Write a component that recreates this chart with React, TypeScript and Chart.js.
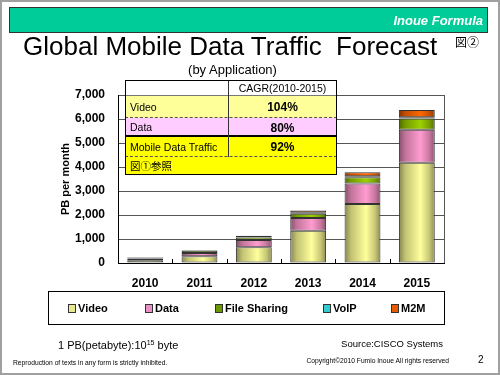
import React, { useEffect, useRef } from "react";
import { Chart, registerables } from "chart.js";

Chart.register(...registerables);

// ---- data ----
const years = ["2010", "2011", "2012", "2013", "2014", "2015"];
const videoPB = [115, 280, 660, 1340, 2460, 4180];
const dataPB = [75, 140, 300, 530, 850, 1370];
const fileSharingPB = [35, 90, 100, 180, 260, 470];
const voipPB = [5, 15, 20, 40, 40, 50];
const m2mPB = [7, 20, 60, 100, 170, 300];
const seriesNames = ["Video", "Data", "File Sharing", "VoIP", "M2M"];
const yTicksMax = 7000;
const yTickStep = 1000;

const cagrRows = ["Video", "Data", "Mobile Data Traffic"];
const cagrValues = ["104%", "80%", "92%"];

// ---- style ----
const BOLDF = '"Liberation Sans", Arial, sans-serif';
const SANS = '"Liberation Sans", Arial, sans-serif';
const CJK = '"Liberation Sans", "Noto Sans CJK JP", sans-serif';
const baseRGB: [number, number, number][] = [
  [255, 255, 153],
  [255, 153, 204],
  [153, 204, 0],
  [51, 204, 204],
  [255, 102, 0],
];
const swatchColors = ["#E8E890", "#E890C8", "#6B9A00", "#33CCCC", "#E65C00"];
const legendX = [68, 145, 215, 323, 391];
const BAR_FRAC = 0.66;

function mix(c: [number, number, number], f: number) {
  const r = c.map((v) => Math.max(0, Math.min(255, Math.round(v * f))));
  return `rgb(${r[0]},${r[1]},${r[2]})`;
}

function cylinder(i: number) {
  const base = baseRGB[i];
  return (ctx: any) => {
    const solid = mix(base, 1);
    const chart = ctx.chart;
    const xs = chart && chart.scales ? chart.scales.x : null;
    if (!xs || ctx.type !== "data") return solid;
    const cx = xs.getPixelForValue(ctx.dataIndex);
    const w = (xs.width / years.length) * BAR_FRAC;
    if (!isFinite(cx) || !isFinite(w) || w <= 0) return solid;
    const g = chart.ctx.createLinearGradient(cx - w / 2, 0, cx + w / 2, 0);
    g.addColorStop(0, mix(base, 0.52));
    g.addColorStop(0.18, mix(base, 0.76));
    g.addColorStop(0.6, mix(base, 1.02));
    g.addColorStop(0.85, mix(base, 0.78));
    g.addColorStop(1, mix(base, 0.55));
    return g;
  };
}

const decorPlugin = {
  id: "decor",
  afterDraw(chart: any) {
    const c = chart.ctx;
    const a = chart.chartArea;
    const xs = chart.scales.x;
    c.save();
    c.lineWidth = 1;
    c.strokeStyle = "#555";
    const rx = Math.round(a.right) + 0.5;
    c.beginPath();
    c.moveTo(rx, a.top);
    c.lineTo(rx, a.bottom);
    c.stroke();
    c.strokeStyle = "#000";
    for (let i = 1; i < years.length; i++) {
      const px = Math.round((xs.getPixelForValue(i - 1) + xs.getPixelForValue(i)) / 2) + 0.5;
      c.beginPath();
      c.moveTo(px, a.bottom);
      c.lineTo(px, a.bottom - 4);
      c.stroke();
    }
    // legend box
    c.strokeStyle = "#000";
    c.strokeRect(48.5, 291.5, 396, 33);
    chart.data.datasets.forEach((ds: any, i: number) => {
      const x = legendX[i];
      c.fillStyle = swatchColors[i];
      c.fillRect(x, 304, 8, 9);
      c.strokeStyle = "#333";
      c.strokeRect(x + 0.5, 304.5, 7, 8);
      c.fillStyle = "#000";
      c.font = `bold 11px ${BOLDF}`;
      c.textBaseline = "middle";
      c.textAlign = "left";
      c.fillText(ds.label, x + 10, 308.5);
    });
    c.restore();
  },
};

function Txt(props: { x: number; y: number; size: number; text: any; style?: any; align?: string; w?: number }) {
  const { x, y, size, text, style, align, w } = props;
  const st: any = {
    position: "absolute",
    top: y - size / 2,
    fontSize: size,
    lineHeight: size + "px",
    whiteSpace: "pre",
    fontFamily: SANS,
    color: "#000",
    ...style,
  };
  if (align === "right") {
    st.right = 500 - x;
  } else if (align === "center") {
    st.left = x - (w || 200) / 2;
    st.width = w || 200;
    st.textAlign = "center";
  } else {
    st.left = x;
  }
  return <div style={st}>{text}</div>;
}

export default function App() {
  const ref = useRef<HTMLCanvasElement | null>(null);

  useEffect(() => {
    document.body.style.margin = "0";
    const canvas = ref.current;
    if (!canvas) return;
    const series = [videoPB, dataPB, fileSharingPB, voipPB, m2mPB];
    const chart = new Chart(canvas, {
      type: "bar",
      data: {
        labels: years,
        datasets: series.map((d, i) => ({
          label: seriesNames[i],
          data: d,
          backgroundColor: cylinder(i),
          borderColor: "#333",
          borderWidth: 1,
          borderSkipped: false,
          categoryPercentage: 1,
          barPercentage: BAR_FRAC,
        })),
      },
      options: {
        animation: false,
        responsive: false,
        maintainAspectRatio: false,
        devicePixelRatio: 1,
        layout: { padding: { left: 0, right: 56, top: 95, bottom: 0 } },
        plugins: {
          legend: { display: false },
          tooltip: { enabled: false },
          title: { display: false },
        },
        scales: {
          x: {
            stacked: true,
            grid: { display: false, drawTicks: false },
            border: { display: true, color: "#000", width: 1 },
            ticks: {
              color: "#000",
              padding: 13,
              font: { family: BOLDF, size: 12, weight: "bold" },
            },
            afterFit: (s: any) => {
              s.height = 112;
            },
          },
          y: {
            stacked: true,
            min: 0,
            max: yTicksMax,
            ticks: {
              stepSize: yTickStep,
              color: "#000",
              padding: 13,
              font: { family: BOLDF, size: 12, weight: "bold" },
              callback: (v: any) => Number(v).toLocaleString("en-US"),
            },
            grid: { color: "#555", drawTicks: false },
            border: { color: "#000" },
            title: {
              display: true,
              text: "PB per month",
              color: "#000",
              font: { family: BOLDF, size: 11, weight: "bold" },
              padding: { top: 59, bottom: 0 },
            },
            afterFit: (s: any) => {
              s.width = 118;
            },
          },
        },
      } as any,
      plugins: [decorPlugin],
    });
    return () => chart.destroy();
  }, []);

  const rowTops = [96, 118, 137];
  const rowHs = [22, 19, 20];
  const rowBg = ["#FFFF99", "#FFCCFF", "#FFFF00"];

  return (
    <div
      style={{
        position: "relative",
        width: 500,
        height: 375,
        overflow: "hidden",
        background: "#fff",
      }}
    >
      <canvas ref={ref} width={500} height={375} style={{ position: "absolute", left: 0, top: 0, width: 500, height: 375 }} />
      {/* frame */}
      <div style={{ position: "absolute", left: 0, top: 0, width: 500, height: 375, boxSizing: "border-box", border: "2px solid #a0a0a0", pointerEvents: "none" }} />
      {/* header band */}
      <div style={{ position: "absolute", left: 9, top: 7, width: 479, height: 26, boxSizing: "border-box", background: "#00CC99", border: "1px solid #333" }} />
      <Txt x={483} y={20} size={13} align="right" text="Inoue Formula" style={{ color: "#fff", fontWeight: "bold", fontStyle: "italic" }} />
      {/* titles */}
      <Txt x={23} y={45.5} size={26} text={"Global Mobile Data Traffic  Forecast"} />
      <Txt x={455} y={43} size={12} text="図②" style={{ fontFamily: CJK }} />
      <Txt x={232.5} y={69} size={13} align="center" w={160} text="(by Application)" />
      {/* CAGR table */}
      <div style={{ position: "absolute", left: 125, top: 80, width: 212, height: 16, background: "#fff" }} />
      {rowTops.map((t, i) => (
        <div key={"r" + i} style={{ position: "absolute", left: 125, top: t, width: 212, height: rowHs[i], background: rowBg[i] }} />
      ))}
      <div style={{ position: "absolute", left: 125, top: 157, width: 212, height: 17, background: "#FFFF00" }} />
      <div style={{ position: "absolute", left: 125, top: 95, width: 212, height: 0, borderTop: "1px solid #777" }} />
      <div style={{ position: "absolute", left: 125, top: 117, width: 212, height: 0, borderTop: "1px dashed #555" }} />
      <div style={{ position: "absolute", left: 125, top: 135, width: 212, height: 0, borderTop: "2px solid #000" }} />
      <div style={{ position: "absolute", left: 125, top: 156, width: 212, height: 0, borderTop: "1px dashed #555" }} />
      <div style={{ position: "absolute", left: 228, top: 80, width: 0, height: 77, borderLeft: "1px solid #333" }} />
      <div style={{ position: "absolute", left: 125, top: 80, width: 212, height: 95, boxSizing: "border-box", border: "1px solid #000" }} />
      <Txt x={282.5} y={88} size={10.5} align="center" w={109} text="CAGR(2010-2015)" />
      {cagrRows.map((r, i) => (
        <React.Fragment key={"c" + i}>
          <Txt x={130} y={rowTops[i] + rowHs[i] / 2} size={10.5} text={r} />
          <Txt x={282.5} y={rowTops[i] + rowHs[i] / 2} size={12} align="center" w={109} text={cagrValues[i]} style={{ fontWeight: "bold" }} />
        </React.Fragment>
      ))}
      <Txt x={130} y={166} size={10.5} text="図①参照" style={{ fontFamily: CJK }} />
      {/* footer */}
      <Txt
        x={58}
        y={345.5}
        size={11}
        text={
          <span>
            1 PB(petabyte):10<sup style={{ fontSize: 7, verticalAlign: "4px", lineHeight: 0 }}>15</sup> byte
          </span>
        }
      />
      <Txt x={443} y={343.3} size={9.5} align="right" text="Source:CISCO Systems" />
      <Txt x={13} y={363.3} size={6.7} text="Reproduction of texts in any form is strictly inhibited." />
      <Txt x={449} y={361.7} size={6.7} align="right" text="Copyright©2010 Fumio Inoue All rights reserved" />
      <Txt x={478} y={360} size={10} text="2" />
    </div>
  );
}
